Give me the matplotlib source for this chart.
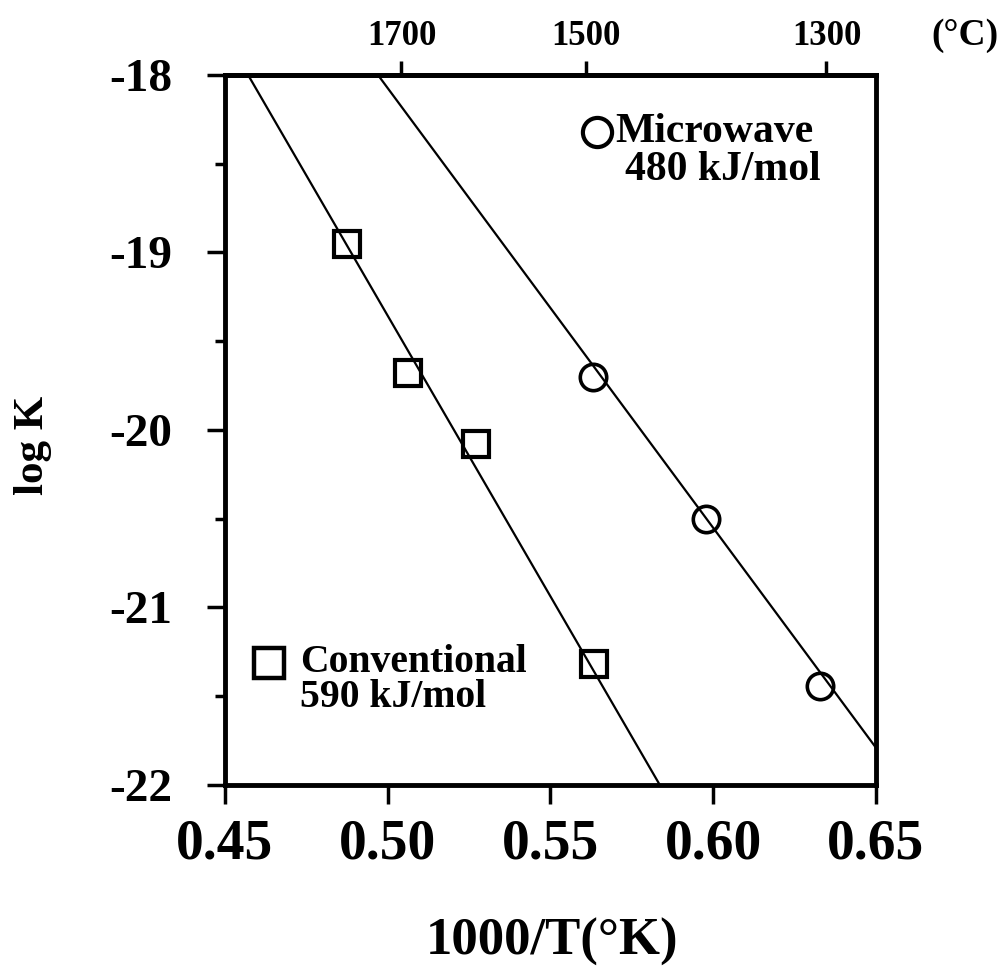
import numpy as np
import matplotlib
matplotlib.use('Agg')
from matplotlib import pyplot as plt

# sintering rate constants, log K vs 1000/T
conv_x = [0.4875, 0.5062, 0.5271, 0.5634]
conv_y = [-18.95, -19.68, -20.08, -21.32]
micro_x = [0.5631, 0.5978, 0.6328]
micro_y = [-19.70, -20.50, -21.44]

# Arrhenius fit lines (end points)
conv_fit_x = [0.4571, 0.5836]
conv_fit_y = [-18.0, -22.0]
micro_fit_x = [0.4970, 0.6500]
micro_fit_y = [-18.0, -21.79]

top_ticks_c = [1700, 1500, 1300]

plt.rcParams['font.family'] = ['Liberation Serif', 'DejaVu Serif']
plt.rcParams['font.weight'] = 'bold'

fig = plt.figure(figsize=(10.08, 9.76), dpi=100)
ax = fig.add_axes([0.2232, 0.1957, 0.6458, 0.7275])

ax.plot(conv_fit_x, conv_fit_y, color='black', lw=1.6, zorder=2)
ax.plot(micro_fit_x, micro_fit_y, color='black', lw=1.6, zorder=2)
ax.plot(conv_x, conv_y, ls='none', marker='s', ms=19, mfc='none', mec='black',
        mew=3.0, zorder=3)
ax.plot(micro_x, micro_y, ls='none', marker='o', ms=19, mfc='none', mec='black',
        mew=2.6, zorder=3)

ax.set_xlim(0.45, 0.65)
ax.set_ylim(-22, -18)
ax.set_xticks([0.45, 0.50, 0.55, 0.60, 0.65])
ax.set_xticklabels(['0.45', '0.50', '0.55', '0.60', '0.65'])
ax.set_yticks([-22, -21, -20, -19, -18])
ax.set_yticks(np.arange(-21.5, -18, 1.0), minor=True)
ax.set_yticklabels(['-22', '-21', '-20', '-19', '-18'])

for s in ax.spines.values():
    s.set_linewidth(3.5)
ax.tick_params(axis='x', which='major', direction='out', length=14, width=2.5,
               labelsize=40, pad=10)
ax.tick_params(axis='y', which='major', direction='out', length=13, width=2.5,
               labelsize=34, pad=25)
ax.tick_params(axis='y', which='minor', direction='out', length=7, width=2.5)

ax.set_xlabel('1000/T(°K)', fontsize=38, fontweight='bold', va='center')
ax.xaxis.set_label_coords(0.502, -0.221)
ax.set_ylabel('log K', fontsize=31, fontweight='bold', va='center')
ax.yaxis.set_label_coords(-0.295, 0.479)

# Celsius scale on top
def k_to_c(x):
    x = np.asarray(x, dtype=float)
    with np.errstate(divide='ignore'):
        return 1000.0 / x - 273.15

sec = ax.secondary_xaxis('top', functions=(k_to_c, k_to_c))
sec.set_xticks(top_ticks_c)
sec.set_xticklabels([str(t) for t in top_ticks_c])
sec.tick_params(direction='out', length=10, width=2.5, labelsize=25, pad=6)
sec.spines['top'].set_linewidth(3.5)
ax.text(1.137, 1.056, '(°C)', transform=ax.transAxes, fontsize=27,
        fontweight='bold', ha='center', va='center')

# legend-style labels
ax.plot([0.572], [0.920], transform=ax.transAxes, marker='o', ms=21, mfc='none',
        mec='black', mew=3.0, clip_on=False)
ax.text(0.599, 0.920, 'Microwave', transform=ax.transAxes, fontsize=30,
        fontweight='bold', va='center', ha='left')
ax.text(0.614, 0.866, '480 kJ/mol', transform=ax.transAxes, fontsize=30,
        fontweight='bold', va='center', ha='left')
ax.plot([0.067], [0.172], transform=ax.transAxes, marker='s', ms=21, mfc='none',
        mec='black', mew=3.2, clip_on=False)
ax.text(0.115, 0.172, 'Conventional', transform=ax.transAxes, fontsize=28.5,
        fontweight='bold', va='center', ha='left')
ax.text(0.115, 0.123, '590 kJ/mol', transform=ax.transAxes, fontsize=28.5,
        fontweight='bold', va='center', ha='left')

fig.savefig('out.png', dpi=100, facecolor='white')
